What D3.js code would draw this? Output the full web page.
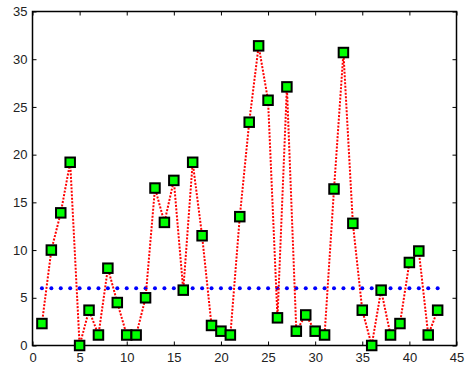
<!DOCTYPE html>
<html>
<head>
<meta charset="utf-8">
<script src="https://cdn.jsdelivr.net/npm/d3@7"></script>
<style>
  body { margin: 0; background: #fff; }
  text { font-family: "Liberation Sans", Arial, sans-serif; font-size: 13px; fill: #222; }
</style>
</head>
<body>
<svg width="467" height="368"></svg>
<script>
// sample index and measured values
var xs = [1, 2, 3, 4, 5, 6, 7, 8, 9, 10, 11, 12, 13, 14, 15, 16, 17, 18, 19, 20, 21, 22,
  23, 24, 25, 26, 27, 28, 29, 30, 31, 32, 33, 34, 35, 36, 37, 38, 39, 40, 41, 42, 43];
var values = [2.3, 10.0, 13.9, 19.2, 0.0, 3.7, 1.1, 8.1, 4.5, 1.1, 1.1, 5.0, 16.5, 12.9,
  17.3, 5.8, 19.2, 11.5, 2.1, 1.5, 1.1, 13.5, 23.4, 31.4, 25.7, 2.9, 27.1, 1.5, 3.2, 1.5,
  1.1, 16.4, 30.7, 12.8, 3.7, 0.0, 5.8, 1.1, 2.3, 8.7, 9.9, 1.1, 3.7];
var threshold = 6.0;
var xTicks = [0, 5, 10, 15, 20, 25, 30, 35, 40, 45];
var yTicks = [0, 5, 10, 15, 20, 25, 30, 35];

var svg = d3.select("svg");
// plot box (note: "top" is taken by window.top, so use other names)
var boxL = 32.5, boxR = 456.5, boxT = 11.5, boxB = 345.5;

var x = d3.scaleLinear().domain([0, 45]).range([boxL, boxR]);
var y = d3.scaleLinear().domain([0, 35]).range([boxB, boxT]);

// axes, MATLAB style: ticks pointing inward on all four sides
svg.append("g")
  .attr("transform", "translate(0," + boxB + ")")
  .call(d3.axisBottom(x).tickValues(xTicks).tickSizeInner(-4).tickSizeOuter(0).tickPadding(7))
  .call(function(g) { g.select(".domain").remove(); });

svg.append("g")
  .attr("transform", "translate(" + boxL + ",0)")
  .call(d3.axisLeft(y).tickValues(yTicks).tickSizeInner(-4).tickSizeOuter(0).tickPadding(5))
  .call(function(g) { g.select(".domain").remove(); });

svg.append("g")
  .attr("transform", "translate(0," + boxT + ")")
  .call(d3.axisTop(x).tickValues(xTicks).tickSizeInner(-4).tickSizeOuter(0).tickFormat(""))
  .call(function(g) { g.select(".domain").remove(); });

svg.append("g")
  .attr("transform", "translate(" + boxR + ",0)")
  .call(d3.axisRight(y).tickValues(yTicks).tickSizeInner(-4).tickSizeOuter(0).tickFormat(""))
  .call(function(g) { g.select(".domain").remove(); });

svg.selectAll(".tick line").attr("stroke", "#000").attr("stroke-width", 1);
svg.selectAll(".tick text").style("font-size", "13px").attr("fill", "#222");

svg.append("rect")
  .attr("x", boxL).attr("y", boxT)
  .attr("width", boxR - boxL).attr("height", boxB - boxT)
  .attr("fill", "none")
  .attr("stroke", "#000")
  .attr("stroke-width", 1.5);

// threshold drawn as blue dots
svg.append("g")
  .selectAll("circle")
  .data(xs)
  .enter().append("circle")
    .attr("cx", function(d) { return x(d); })
    .attr("cy", y(threshold))
    .attr("r", 2)
    .attr("fill", "#0000ff");

var line = d3.line()
  .x(function(d, i) { return x(xs[i]); })
  .y(function(d) { return y(d); });

svg.append("path")
  .datum(values)
  .attr("d", line)
  .attr("fill", "none")
  .attr("stroke", "#ff0000")
  .attr("stroke-width", 2)
  .attr("stroke-dasharray", "2,1.5");

svg.append("g")
  .selectAll("rect")
  .data(values)
  .enter().append("rect")
    .attr("x", function(d, i) { return x(xs[i]) - 4.75; })
    .attr("y", function(d) { return y(d) - 4.75; })
    .attr("width", 9.5)
    .attr("height", 9.5)
    .attr("fill", "#00ff00")
    .attr("stroke", "#000")
    .attr("stroke-width", 2);
</script>
</body>
</html>
